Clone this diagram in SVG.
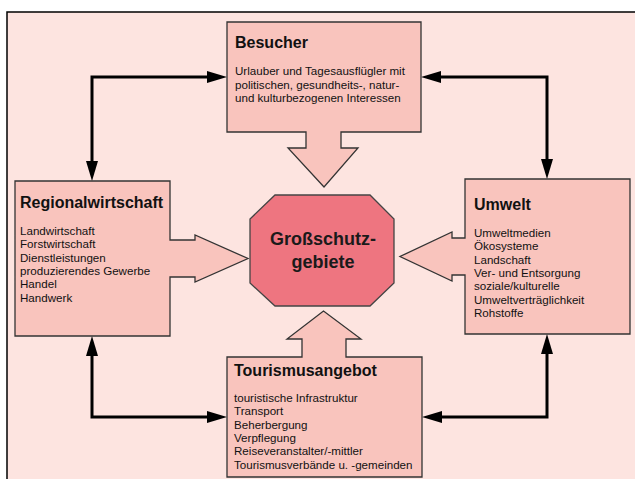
<svg xmlns="http://www.w3.org/2000/svg" width="635" height="479" viewBox="0 0 635 479">
<style>
.node{fill:#f9c4bd;stroke:#333;stroke-width:1.3}
.title{font-family:"Liberation Sans",Arial,sans-serif;font-weight:bold;font-size:16px;fill:#111}
.body{font-family:"Liberation Sans",Arial,sans-serif;font-size:11.6px;fill:#111}
.line{fill:none;stroke:#000;stroke-width:3}
.head{fill:#000}
</style>
<rect x="0" y="0" width="635" height="479" fill="#fff"/>
<rect x="7" y="12" width="650" height="490" fill="#fde4e0" stroke="#000" stroke-width="1.5"/>
<g id="connectors">
<polyline class="line" points="209,77 92,77 92,163"/>
<polygon class="head" points="227,77 207,71 207,83"/>
<polygon class="head" points="92,181 86,161 98,161"/>
<polyline class="line" points="439,77 547,77 547,161"/>
<polygon class="head" points="421,77 441,71 441,83"/>
<polygon class="head" points="547,179 541,159 553,159"/>
<polyline class="line" points="92,354 92,417 209,417"/>
<polygon class="head" points="92,336 86,356 98,356"/>
<polygon class="head" points="227,417 207,411 207,423"/>
<polyline class="line" points="440,417 547,417 547,352"/>
<polygon class="head" points="422,417 442,411 442,423"/>
<polygon class="head" points="547,334 541,354 553,354"/>
</g>
<g id="besucher">
<path class="node" d="M227,22 H421 V132 H341 V148 H358 L324,187 L288,148 H306 V132 H227 Z"/>
<text class="title" x="235" y="48">Besucher</text>
<text class="body" x="235" y="75">Urlauber und Tagesausflügler mit</text>
<text class="body" x="235" y="88.5">politischen, gesundheits-, natur-</text>
<text class="body" x="235" y="102">und kulturbezogenen Interessen</text>
</g>
<g id="regionalwirtschaft">
<path class="node" d="M15,181 H170 V240 H195 V235 L248,258.5 L195,282 V277 H170 V336 H15 Z"/>
<text class="title" x="20" y="208">Regionalwirtschaft</text>
<text class="body" x="20" y="235">Landwirtschaft</text>
<text class="body" x="20" y="248.3">Forstwirtschaft</text>
<text class="body" x="20" y="261.6">Dienstleistungen</text>
<text class="body" x="20" y="274.9">produzierendes Gewerbe</text>
<text class="body" x="20" y="288.2">Handel</text>
<text class="body" x="20" y="301.5">Handwerk</text>
</g>
<g id="umwelt">
<path class="node" d="M465,179 H630 V334 H465 V275 H452 V281 L400,256.5 L452,232 V238 H465 Z"/>
<text class="title" x="474" y="210">Umwelt</text>
<text class="body" x="474" y="237">Umweltmedien</text>
<text class="body" x="474" y="250.3">Ökosysteme</text>
<text class="body" x="474" y="263.6">Landschaft</text>
<text class="body" x="474" y="276.9">Ver- und Entsorgung</text>
<text class="body" x="474" y="290.2">soziale/kulturelle</text>
<text class="body" x="474" y="303.5">Umweltverträglichkeit</text>
<text class="body" x="474" y="316.8">Rohstoffe</text>
</g>
<g id="tourismusangebot">
<path class="node" d="M227,357 H302 V339 H287 L323.5,311 L361,339 H346 V357 H422 V477 H227 Z"/>
<text class="title" x="234" y="376">Tourismusangebot</text>
<text class="body" x="234" y="402">touristische Infrastruktur</text>
<text class="body" x="234" y="415.3">Transport</text>
<text class="body" x="234" y="428.6">Beherbergung</text>
<text class="body" x="234" y="441.9">Verpflegung</text>
<text class="body" x="234" y="455.2">Reiseveranstalter/-mittler</text>
<text class="body" x="234" y="468.5">Tourismusverbände u. -gemeinden</text>
</g>
<g id="grossschutzgebiete">
<polygon points="275,195 370,195 394,219 394,283 370,306 275,306 250,283 250,219" fill="#ee7580" stroke="#444" stroke-width="1.3"/>
<text x="323" y="245" text-anchor="middle" font-family="'Liberation Sans',Arial,sans-serif" font-weight="bold" font-size="18" fill="#1a1a1a">Großschutz-</text>
<text x="323" y="268" text-anchor="middle" font-family="'Liberation Sans',Arial,sans-serif" font-weight="bold" font-size="18" fill="#1a1a1a">gebiete</text>
</g>
</svg>
